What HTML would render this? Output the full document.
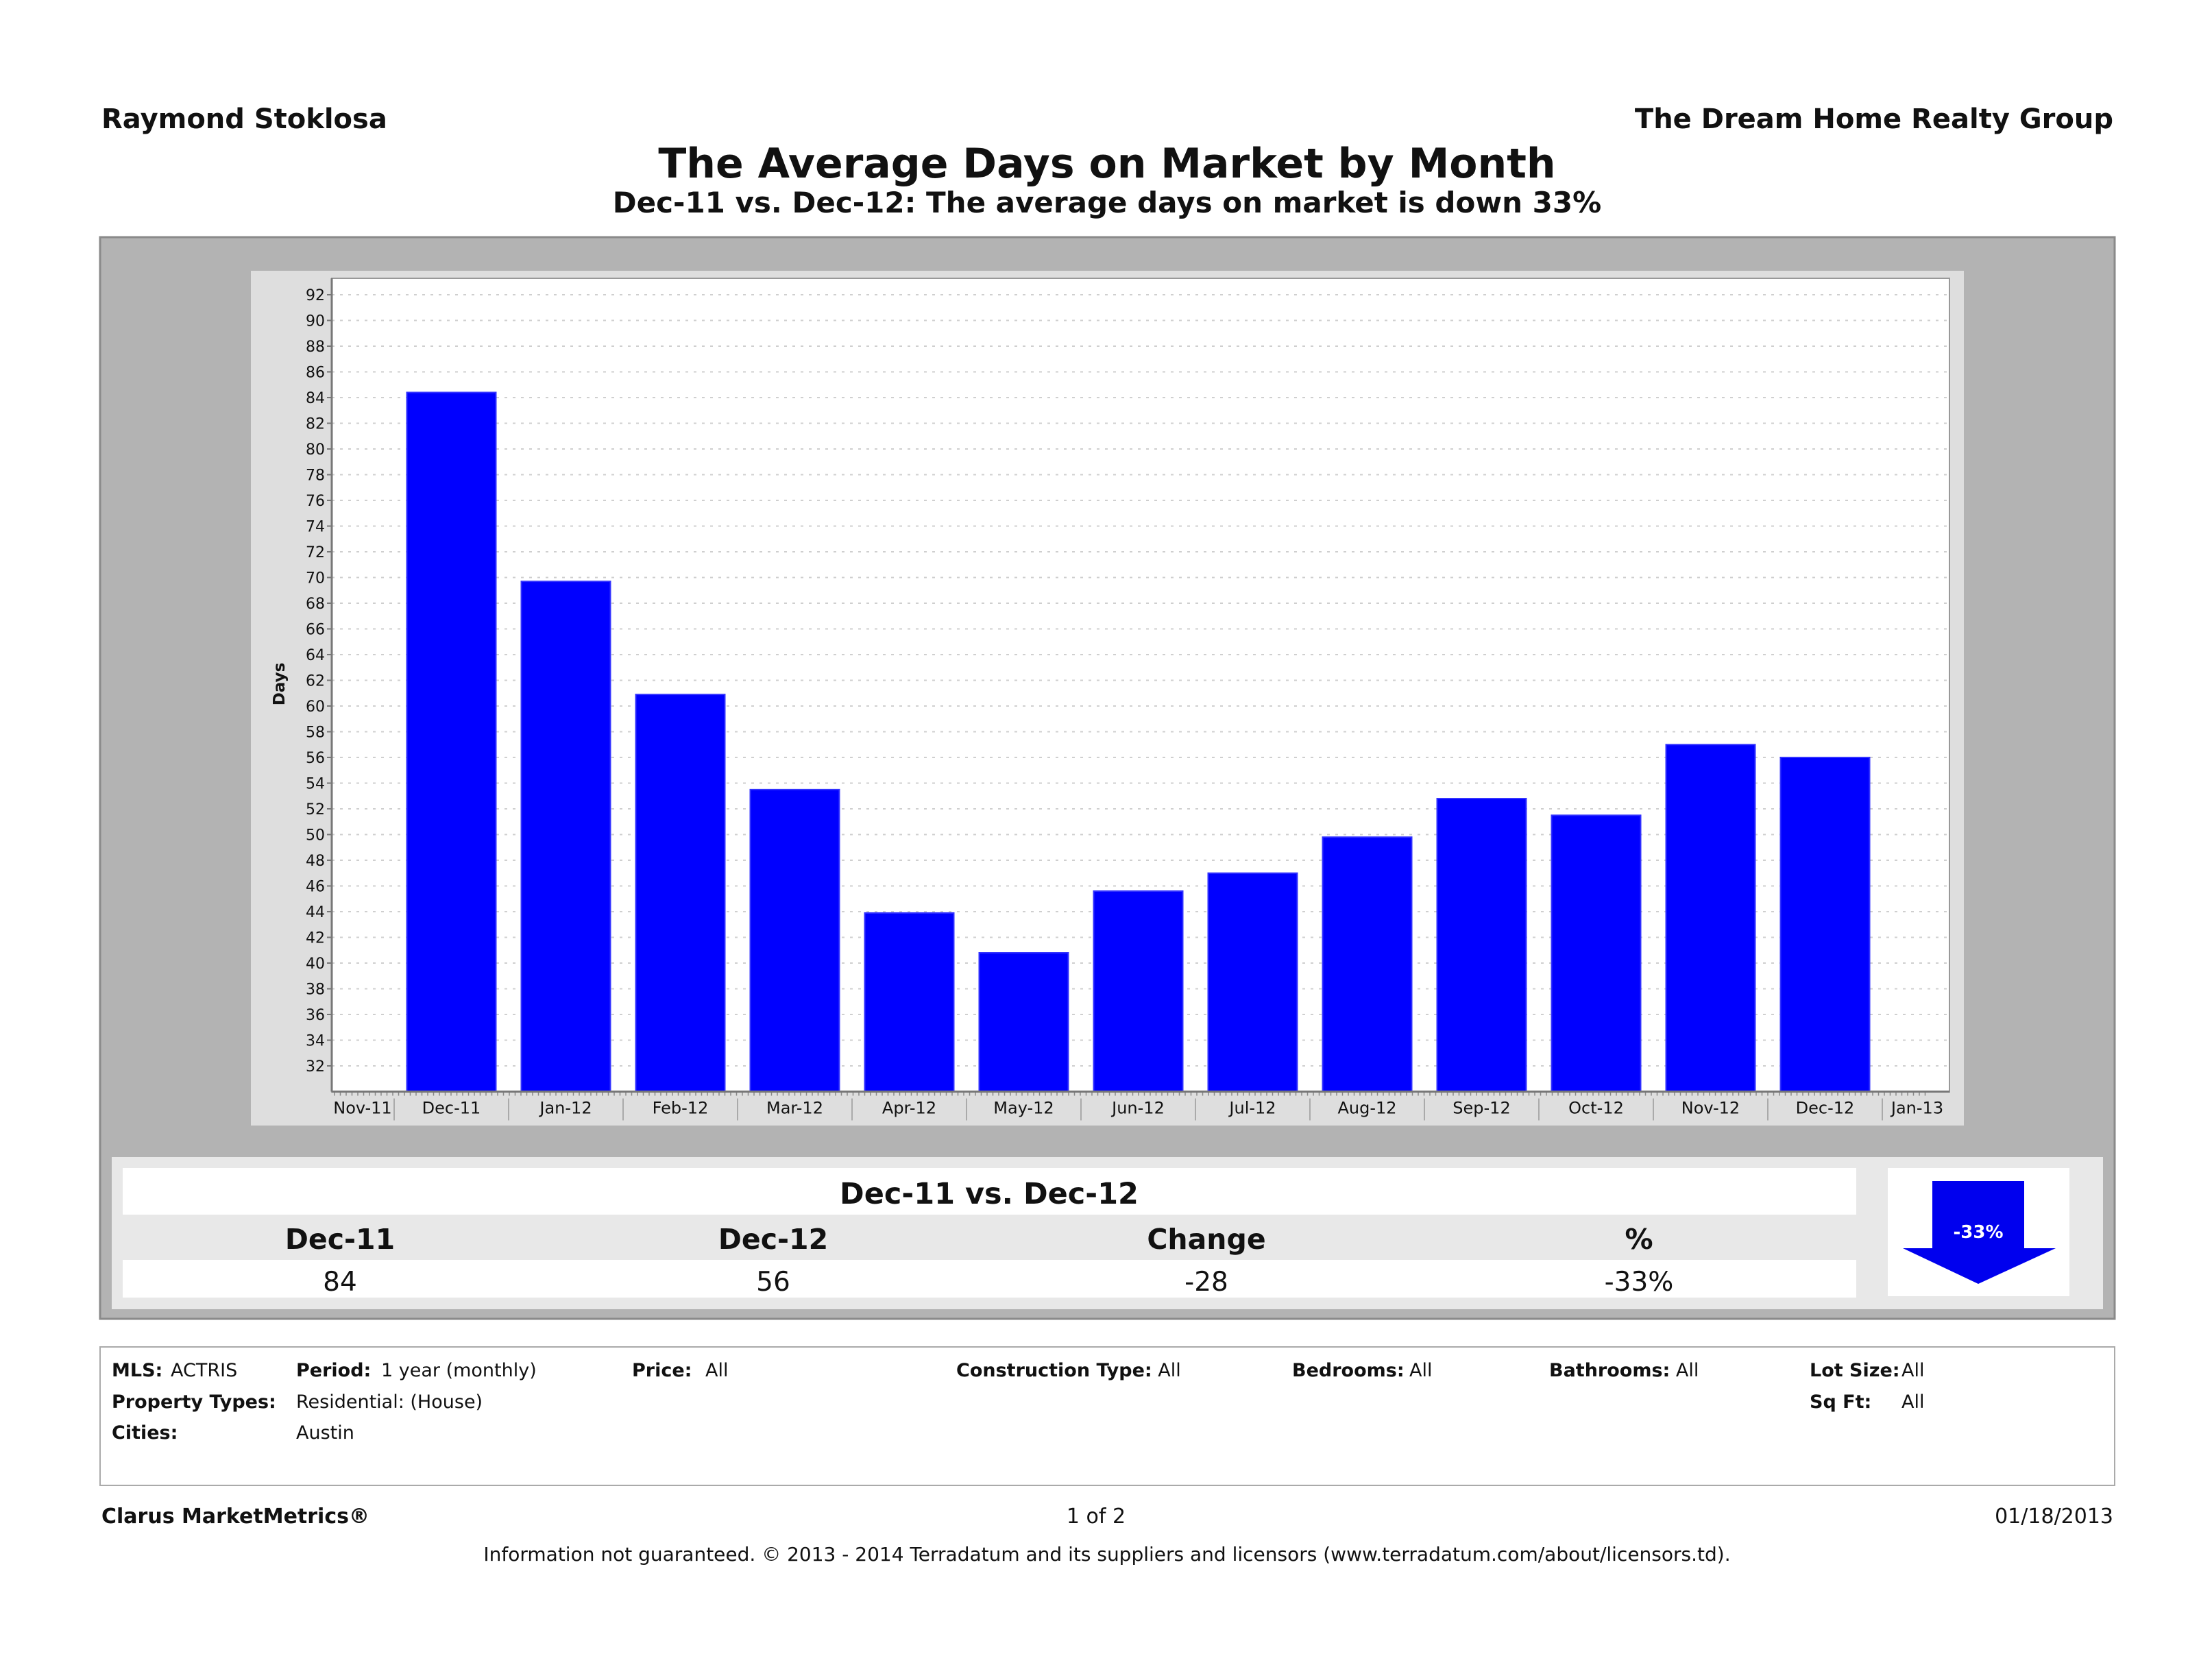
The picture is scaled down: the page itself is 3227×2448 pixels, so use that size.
<!DOCTYPE html>
<html><head><meta charset="utf-8"><style>
html,body{margin:0;padding:0;background:#fff;}
svg{display:block;font-family:"DejaVu Sans","Liberation Sans",sans-serif;}
</style></head><body>
<svg id="page" width="3227" height="2448" viewBox="0 0 3227 2448" xmlns="http://www.w3.org/2000/svg">
<text x="148" y="187" font-size="40" font-weight="bold" fill="#111">Raymond Stoklosa</text>
<text x="3083" y="187" font-size="40" font-weight="bold" fill="#111" text-anchor="end">The Dream Home Realty Group</text>
<text x="1615" y="259" font-size="60" font-weight="bold" fill="#111" text-anchor="middle">The Average Days on Market by Month</text>
<text x="1615" y="310" font-size="42" font-weight="bold" fill="#111" text-anchor="middle">Dec-11 vs. Dec-12:  The average days on market is down 33%</text>

<rect x="146" y="346" width="2939" height="1578" fill="#b3b3b3" stroke="#8a8a8a" stroke-width="3"/>
<rect x="366" y="395" width="2499" height="1247" fill="#dedede"/>
<rect x="484" y="406" width="2360" height="1187" fill="#fff" stroke="#999" stroke-width="2"/>
<g id="grid"></g>
<g id="bars"></g>
<g id="axes"></g>
<text transform="translate(415,998) rotate(-90)" font-size="23" font-weight="bold" text-anchor="middle" fill="#111">Days</text>

<rect x="163" y="1688" width="2905" height="222" fill="#e8e8e8"/>
<rect x="179" y="1704" width="2529" height="68" fill="#fff"/>
<rect x="179" y="1838" width="2529" height="55" fill="#fff"/>
<text x="1443" y="1756" font-size="43" font-weight="bold" text-anchor="middle" fill="#111">Dec-11 vs. Dec-12</text>
<g font-size="41" font-weight="bold" text-anchor="middle" fill="#111">
<text x="496" y="1822">Dec-11</text>
<text x="1128" y="1822">Dec-12</text>
<text x="1760" y="1822">Change</text>
<text x="2391" y="1822">%</text>
</g>
<g font-size="39" text-anchor="middle" fill="#111">
<text x="496" y="1883">84</text>
<text x="1128" y="1883">56</text>
<text x="1760" y="1883">-28</text>
<text x="2391" y="1883">-33%</text>
</g>
<rect x="2754" y="1704" width="265" height="187" fill="#fff"/>
<polygon points="2819,1723 2953,1723 2953,1821 2999,1821 2886,1873 2776,1821 2819,1821" fill="#0000ee"/>
<text x="2886" y="1806" font-size="26" font-weight="bold" fill="#fff" text-anchor="middle">-33%</text>

<rect x="146" y="1965" width="2939" height="202" fill="#fff" stroke="#aaa" stroke-width="2"/>
<g font-size="27" fill="#111">
<text x="163" y="2008" font-weight="bold">MLS:</text><text x="249" y="2008">ACTRIS</text>
<text x="432" y="2008" font-weight="bold">Period:</text><text x="556" y="2008">1 year (monthly)</text>
<text x="922" y="2008" font-weight="bold">Price:</text><text x="1029" y="2008">All</text>
<text x="1395" y="2008"><tspan font-weight="bold">Construction Type:</tspan> All</text>
<text x="1885" y="2008" font-weight="bold">Bedrooms:</text><text x="2056" y="2008">All</text>
<text x="2260" y="2008"><tspan font-weight="bold">Bathrooms:</tspan> All</text>
<text x="2640" y="2008" font-weight="bold">Lot Size:</text><text x="2774" y="2008">All</text>
<text x="163" y="2054" font-weight="bold">Property Types:</text><text x="432" y="2054">Residential: (House)</text>
<text x="2640" y="2054" font-weight="bold">Sq Ft:</text><text x="2774" y="2054">All</text>
<text x="163" y="2099" font-weight="bold">Cities:</text><text x="432" y="2099">Austin</text>
</g>
<text x="148" y="2222" font-size="30" font-weight="bold" fill="#111">Clarus MarketMetrics®</text>
<text x="1599" y="2222" font-size="30" fill="#111" text-anchor="middle">1 of 2</text>
<text x="3083" y="2222" font-size="30" fill="#111" text-anchor="end">01/18/2013</text>
<text x="1615" y="2277" font-size="28" fill="#111" text-anchor="middle">Information not guaranteed.  © 2013 - 2014 Terradatum and its suppliers and licensors (www.terradatum.com/about/licensors.td).</text>
</svg>
<script>
const categories = ["Dec-11","Jan-12","Feb-12","Mar-12","Apr-12","May-12","Jun-12","Jul-12","Aug-12","Sep-12","Oct-12","Nov-12","Dec-12"];
const daysOnMarket = [84.4,69.7,60.9,53.5,43.9,40.8,45.6,47.0,49.8,52.8,51.5,57.0,56.0];
const yTicks = [32,34,36,38,40,42,44,46,48,50,52,54,56,58,60,62,64,66,68,70,72,74,76,78,80,82,84,86,88,90,92];
const edgeLabels = ["Nov-11","Jan-13"];

const NS = "http://www.w3.org/2000/svg";
const plotL = 484, plotR = 2844, plotB = 1592.5, yMin = 30, pxPerUnit = 18.75;
const firstCenter = 658.5, pitch = 167, barW = 130;
function y(v){ return plotB - (v - yMin) * pxPerUnit; }
function xc(i){ return firstCenter + i * pitch; }
function mk(tag, attrs, parent){ const e = document.createElementNS(NS, tag); for (const k in attrs) e.setAttribute(k, attrs[k]); parent.appendChild(e); return e; }

const grid = document.getElementById('grid'), bars = document.getElementById('bars'), axes = document.getElementById('axes');
yTicks.forEach(t => {
  const g = mk('line', {x1: plotL, x2: plotR, y1: y(t), y2: y(t), stroke: '#cfcfcf', 'stroke-width': 2, 'stroke-dasharray': '4,8'}, grid);
  
  
  const tk = mk('line', {x1: plotL - 7, x2: plotL, y1: y(t), y2: y(t), stroke: '#777', 'stroke-width': 2}, axes);
  
  
  const lb = mk('text', {x: plotL - 10, y: y(t) + 8, 'font-size': 22, 'text-anchor': 'end', fill: '#111'}, axes);
  lb.textContent = t;
  
  
});
categories.forEach((c, i) => {
  const v = daysOnMarket[i];
  const r = mk('rect', {x: xc(i) - barW / 2, y: y(v), width: barW, height: plotB - y(v), fill: '#0000ff', stroke: '#3333ff', 'stroke-width': 2}, bars);
  
  
  const lb = mk('text', {x: xc(i), y: plotB + 32, 'font-size': 24, 'text-anchor': 'middle', fill: '#111'}, axes);
  lb.textContent = c;
  
  
});
for (let i = -1; i < categories.length; i++) {
  const xd = xc(i) + pitch / 2;
  const d = mk('line', {x1: xd, x2: xd, y1: plotB + 10, y2: plotB + 42, stroke: '#aaa', 'stroke-width': 2}, axes);
  
  
}
for (let xx = plotL + 4; xx < plotR - 30; xx += 8.5) {
  const m = mk('line', {x1: xx, x2: xx, y1: plotB, y2: plotB + 6, stroke: '#888', 'stroke-width': 1.5}, axes);
  
  
}
const nov = mk('text', {x: 529, y: plotB + 32, 'font-size': 24, 'text-anchor': 'middle', fill: '#111'}, axes);
nov.textContent = edgeLabels[0];


const jan = mk('text', {x: 2797, y: plotB + 32, 'font-size': 24, 'text-anchor': 'middle', fill: '#111'}, axes);
jan.textContent = edgeLabels[1];


mk('line', {x1: plotL, x2: plotR, y1: plotB, y2: plotB, stroke: '#777', 'stroke-width': 3}, axes);
mk('line', {x1: plotL, x2: plotL, y1: 406, y2: plotB, stroke: '#777', 'stroke-width': 3}, axes);
</script>
</body></html>
